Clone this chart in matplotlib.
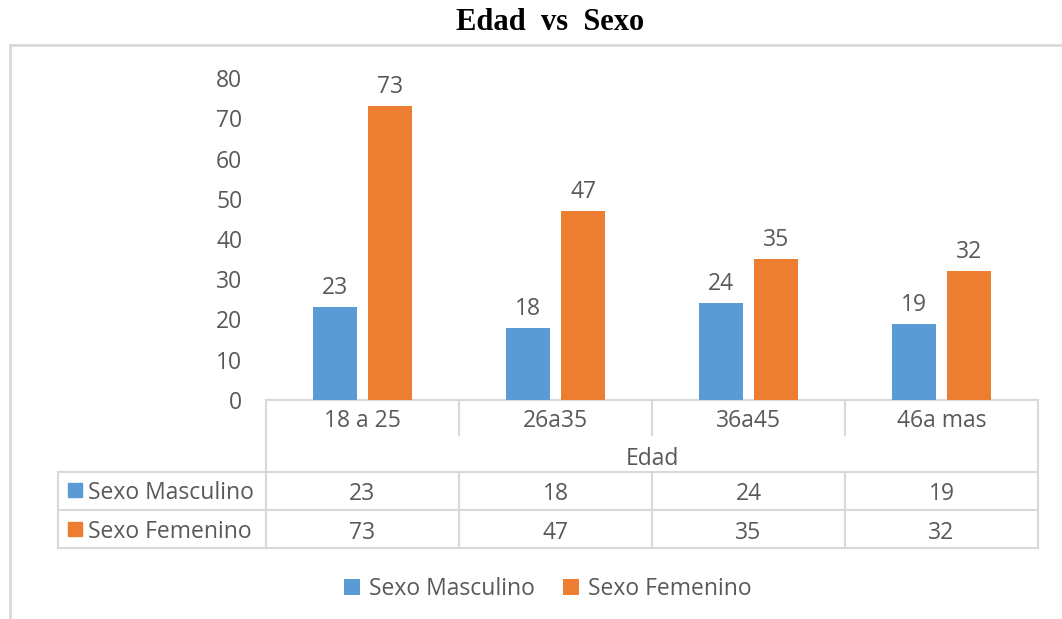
import matplotlib
matplotlib.use("Agg")
import matplotlib.pyplot as plt
from matplotlib.patches import Rectangle
from matplotlib.transforms import blended_transform_factory

# data
categories = ["18 a 25", "26a35", "36a45", "46a mas"]
series_names = ["Sexo Masculino", "Sexo Femenino"]
masculino = [23, 18, 24, 19]
femenino = [73, 47, 35, 32]
yticks = [0, 10, 20, 30, 40, 50, 60, 70, 80]

blue = "#5B9BD5"
orange = "#ED7D31"
txt = "#595959"
grid = "#D9D9D9"
fs = 16.5

plt.rcParams["font.family"] = ["Open Sans", "DejaVu Sans"]

W, H = 1062, 619
fig = plt.figure(figsize=(W / 100, H / 100), dpi=100)

# overlay axes in pixel coords for frame + data table
ov = fig.add_axes([0, 0, 1, 1], zorder=0)
ov.set_xlim(0, W)
ov.set_ylim(H, 0)
ov.axis("off")

# main bar axes
x0, x1, ytop, ybot = 266, 1038, 78, 400
ax = fig.add_axes([x0 / W, (H - ybot) / H, (x1 - x0) / W, (ybot - ytop) / H], zorder=1)
ax.patch.set_alpha(0)

idx = list(range(len(categories)))
w = 0.225
off = 0.1425
b1 = ax.bar([i - off for i in idx], masculino, w, color=blue, label=series_names[0])
b2 = ax.bar([i + off for i in idx], femenino, w, color=orange, label=series_names[1])
ax.bar_label(b1, padding=5, fontsize=fs, color=txt)
ax.bar_label(b2, padding=5, fontsize=fs, color=txt)

ax.set_xlim(-0.5, len(categories) - 0.5)
ax.set_ylim(0, 80)
ax.set_yticks(yticks)
ax.set_xticks([])
ax.tick_params(axis="y", length=0, pad=17, labelsize=fs, labelcolor=txt)
for s in ax.spines.values():
    s.set_visible(False)

# outer frame
ov.plot([10, 10], [H, 45], color=grid, lw=2)
ov.plot([10, W], [45, 45], color=grid, lw=2)

# data table
tr = blended_transform_factory(ax.transData, ov.transData)
n = len(categories)
lk = dict(color=grid, lw=1.5, transform=tr, clip_on=False)
ov.plot([-0.5, n - 0.5], [400, 400], **lk)
for b in range(n + 1):
    xb = b - 0.5
    if b in (0, n):
        ov.plot([xb, xb], [400, 548], **lk)
    else:
        ov.plot([xb, xb], [400, 435], **lk)
        ov.plot([xb, xb], [472, 548], **lk)
for yy in (472, 510, 548):
    ov.plot([58, 266], [yy, yy], color=grid, lw=1.5)
    ov.plot([-0.5, n - 0.5], [yy, yy], **lk)
ov.plot([58, 58], [472, 548], color=grid, lw=1.5)

for i, c in enumerate(categories):
    ov.text(i, 421, c, transform=tr, ha="center", va="center", fontsize=fs, color=txt)
ov.text((n - 1) / 2, 459, "Edad", transform=tr, ha="center", va="center", fontsize=fs, color=txt)

rows = [(series_names[0], masculino, blue, 492), (series_names[1], femenino, orange, 531)]
for name, vals, col, yc in rows:
    ov.add_patch(Rectangle((68, yc - 9), 14, 14, color=col))
    ov.text(88, yc + 1, name, ha="left", va="center", fontsize=fs, color=txt)
    for i, v in enumerate(vals):
        ov.text(i, yc + 2, str(v), transform=tr, ha="center", va="center", fontsize=fs, color=txt)

fig.legend(handles=[b1, b2], loc="center", bbox_to_anchor=(548 / W, (H - 589) / H), ncol=2,
           frameon=False, fontsize=fs, labelcolor=txt, handlelength=0.7, handleheight=0.7,
           handletextpad=0.4, columnspacing=1.2)

fig.text(550 / W, (H - 22) / H, "Edad  vs  Sexo", ha="center", va="center",
         family="Liberation Serif", fontweight="bold", fontsize=22, color="black")

fig.savefig("out.png", dpi=100)
